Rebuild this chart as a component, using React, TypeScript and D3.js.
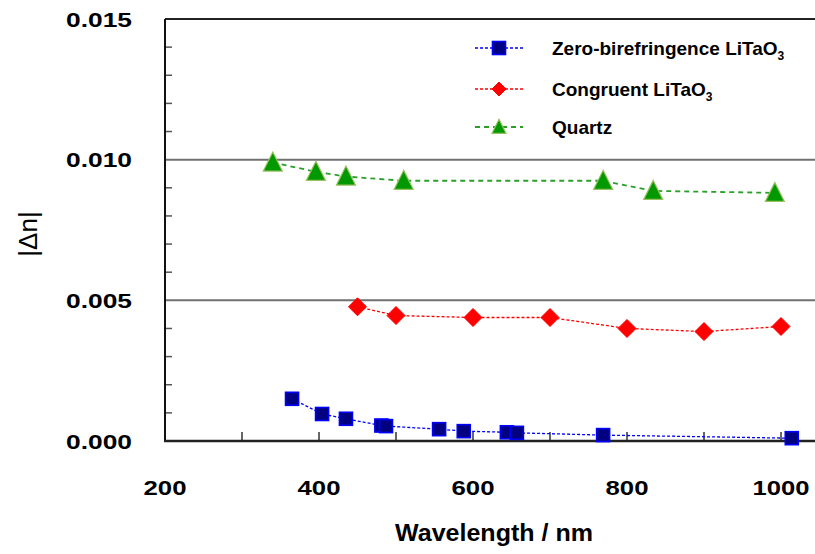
import React from "react";
import * as d3 from "d3";

const blueX = [365, 404, 435, 481, 487, 556, 588, 644, 657, 769, 1014];
const blueY = [0.0015, 0.00096, 0.00079, 0.00055, 0.00053, 0.00042, 0.00035, 0.00031, 0.00029, 0.00021, 0.0001];
const redX = [450, 500, 600, 700, 800, 900, 1000];
const redY = [0.00477, 0.00446, 0.00439, 0.00439, 0.004, 0.00389, 0.00407];
const greenX = [340, 396, 435, 510, 769, 834, 992];
const greenY = [0.0099, 0.00957, 0.0094, 0.00925, 0.00925, 0.00889, 0.00882];

const xTickLabels = [200, 400, 600, 800, 1000];
const xMinorTicks = [300, 400, 500, 600, 700, 800, 900, 1000];
const yTickLabels = [0, 0.005, 0.01, 0.015];
const yMinorTicks = [0.001, 0.002, 0.003, 0.004, 0.006, 0.007, 0.008, 0.009, 0.011, 0.012, 0.013, 0.014];
const gridValues = [0.005, 0.01];

const legendItems = ["Zero-birefringence LiTaO", "Congruent LiTaO", "Quartz"];

const W = 815;
const H = 554;
const left = 165;
const right = 815;
const top = 19;
const bottom = 441;

const font = "'Liberation Sans', Arial, sans-serif";

export default function App() {
  const x = d3.scaleLinear().domain([200, 1000]).range([left, 781]);
  const y = d3.scaleLinear().domain([0, 0.015]).range([bottom, top]);
  const line = d3
    .line<[number, number]>()
    .x((d) => x(d[0]))
    .y((d) => y(d[1]));

  const blue = blueX.map((v, i) => [v, blueY[i]] as [number, number]);
  const red = redX.map((v, i) => [v, redY[i]] as [number, number]);
  const green = greenX.map((v, i) => [v, greenY[i]] as [number, number]);

  const square = (cx: number, cy: number, s: number, k: string) => (
    <rect key={k} x={cx - s / 2} y={cy - s / 2} width={s} height={s} fill="#000080" stroke="#0000ff" strokeWidth={1.6} />
  );
  const diamond = (cx: number, cy: number, r: number, k: string) => (
    <path
      key={k}
      d={`M${cx},${cy - r}L${cx + r},${cy}L${cx},${cy + r}L${cx - r},${cy}Z`}
      fill="#ff0000"
      stroke="#ff0000"
      strokeWidth={1}
      strokeLinejoin="round"
    />
  );
  const triangle = (cx: number, cy: number, w: number, h: number, k: string) => (
    <path
      key={k}
      d={`M${cx},${cy - h * 0.55}L${cx + w / 2},${cy + h * 0.45}L${cx - w / 2},${cy + h * 0.45}Z`}
      fill="#009900"
      stroke="#99c060"
      strokeWidth={1.2}
    />
  );

  const legendY = [48, 89, 127];

  return (
    <svg width={W} height={H} style={{ position: "absolute", left: 0, top: 0, background: "#fff" }}>
      <rect x={0} y={0} width={W} height={H} fill="#fff" />
      {gridValues.map((g) => (
        <line key={g} x1={left} x2={right} y1={y(g)} y2={y(g)} stroke="#707070" strokeWidth={2} />
      ))}
      <line x1={left} x2={right} y1={top} y2={top} stroke="#222" strokeWidth={2} />
      {yMinorTicks.map((t) => (
        <line key={t} x1={left} x2={left + 7} y1={y(t)} y2={y(t)} stroke="#555" strokeWidth={1.5} />
      ))}
      {xMinorTicks.map((t) => (
        <line key={t} x1={x(t)} x2={x(t)} y1={bottom} y2={bottom - 9} stroke="#333" strokeWidth={1.5} />
      ))}
      <line x1={left} x2={left} y1={top} y2={bottom + 1} stroke="#111" strokeWidth={2} />
      <line x1={left - 1} x2={right} y1={bottom} y2={bottom} stroke="#222" strokeWidth={2.5} />

      <path d={line(green) || ""} fill="none" stroke="#2aa02a" strokeWidth={1.8} strokeDasharray="5,4" />
      <path d={line(red) || ""} fill="none" stroke="#ff0000" strokeWidth={1.3} strokeDasharray="3,2" />
      <path d={line(blue) || ""} fill="none" stroke="#0000ff" strokeWidth={1.3} strokeDasharray="3,2" />

      {green.map((d, i) => triangle(x(d[0]), y(d[1]), 19, 19, "g" + i))}
      {red.map((d, i) => diamond(x(d[0]), y(d[1]), 9, "r" + i))}
      {blue.map((d, i) => square(x(d[0]), y(d[1]), 13, "b" + i))}

      {yTickLabels.map((t) => (
        <text
          key={t}
          x={99}
          y={y(t) + 7.5}
          textAnchor="middle"
          fontFamily={font}
          fontWeight="bold"
          fontSize={21}
          textLength={66}
          lengthAdjust="spacingAndGlyphs"
          fill="#000"
        >
          {d3.format(".3f")(t)}
        </text>
      ))}
      {xTickLabels.map((t) => (
        <text
          key={t}
          x={x(t)}
          y={495}
          textAnchor="middle"
          fontFamily={font}
          fontWeight="bold"
          fontSize={21}
          textLength={t >= 1000 ? 57 : 43}
          lengthAdjust="spacingAndGlyphs"
          fill="#000"
        >
          {t}
        </text>
      ))}
      <text
        x={494}
        y={541}
        textAnchor="middle"
        fontFamily={font}
        fontWeight="bold"
        fontSize={24}
        textLength={198}
        lengthAdjust="spacingAndGlyphs"
        fill="#000"
      >
        Wavelength / nm
      </text>
      <text
        transform={`translate(37,234) rotate(-90)`}
        textAnchor="middle"
        fontFamily={font}
        fontSize={26}
        fill="#000"
      >
        |Δn|
      </text>

      {legendItems.map((name, i) => {
        const ly = legendY[i];
        const color = i === 0 ? "#0000ff" : i === 1 ? "#ff0000" : "#2aa02a";
        const dash = i === 2 ? "5,4" : "3,2";
        return (
          <g key={name}>
            <line x1={475} x2={523} y1={ly} y2={ly} stroke={color} strokeWidth={i === 2 ? 2 : 1.3} strokeDasharray={dash} />
            {i === 0 && square(499, ly, 13, "lb")}
            {i === 1 && diamond(499, ly, 7, "lr")}
            {i === 2 && triangle(499, ly, 14, 14, "lg")}
            <text x={552} y={ly + 7} fontFamily={font} fontWeight="bold" fontSize={19} fill="#000">
              {name}
              {i < 2 && (
                <tspan fontSize={12} dy={5}>
                  3
                </tspan>
              )}
            </text>
          </g>
        );
      })}
    </svg>
  );
}
